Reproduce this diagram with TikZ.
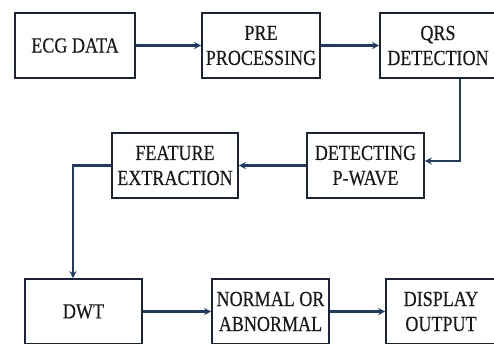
\documentclass[tikz,border=0pt]{standalone}
\usepackage{fontspec}
\setmainfont{Liberation Serif}[FakeStretch=0.84,FakeBold=0.3]
\usetikzlibrary{arrows.meta}
\definecolor{navy}{HTML}{1F3A63}
\definecolor{boxline}{HTML}{1A2338}
\begin{document}
\begin{tikzpicture}[x=1pt,y=-1pt,
  blk/.style={draw=boxline,line width=1.6pt,rectangle,inner sep=0pt,
    font=\fontsize{21.5}{25}\selectfont,align=center,text=black!90},
  conn/.style={draw=navy,line width=2.6pt,-{Stealth[length=7pt,width=7pt]}}]
\useasboundingbox (0,0) rectangle (494,343);
\clip (0,0) rectangle (494,343);
% row 1
\node[blk,minimum width=120pt,minimum height=65pt] (ecg) at (75,45.5) {ECG DATA};
\node[blk,minimum width=118pt,minimum height=65pt] (pre) at (261,45.5) {PRE\\PROCESSING};
\node[blk,minimum width=116pt,minimum height=65pt] (qrs) at (438,45.5) {QRS\\DETECTION};
% row 2
\node[blk,minimum width=126pt,minimum height=65pt] (feat) at (175,165.5) {FEATURE\\EXTRACTION};
\node[blk,minimum width=117pt,minimum height=65pt] (det) at (365.5,165.5) {DETECTING\\P-WAVE};
% row 3
\node[blk,minimum width=117pt,minimum height=65pt] (dwt) at (83.5,311.5) {DWT};
\node[blk,minimum width=117pt,minimum height=65pt] (norm) at (270.5,311.5) {NORMAL OR\\ABNORMAL};
\node[blk,minimum width=110pt,minimum height=65pt] (disp) at (441,311.5) {DISPLAY\\OUTPUT};
\coordinate (c1) at (460,161);
\coordinate (c2) at (73,165.5);
% connectors
\draw[conn] (ecg) -- (pre);
\draw[conn] (pre) -- (qrs);
\draw[conn] (qrs.south -| c1) -- (c1) -- (c1 -| det.east);
\draw[conn] (det) -- (feat);
\draw[conn] (feat.west) -- (c2) -- (c2 |- dwt.north);
\draw[conn] (dwt) -- (norm);
\draw[conn] (norm) -- (disp);
\end{tikzpicture}
\end{document}
